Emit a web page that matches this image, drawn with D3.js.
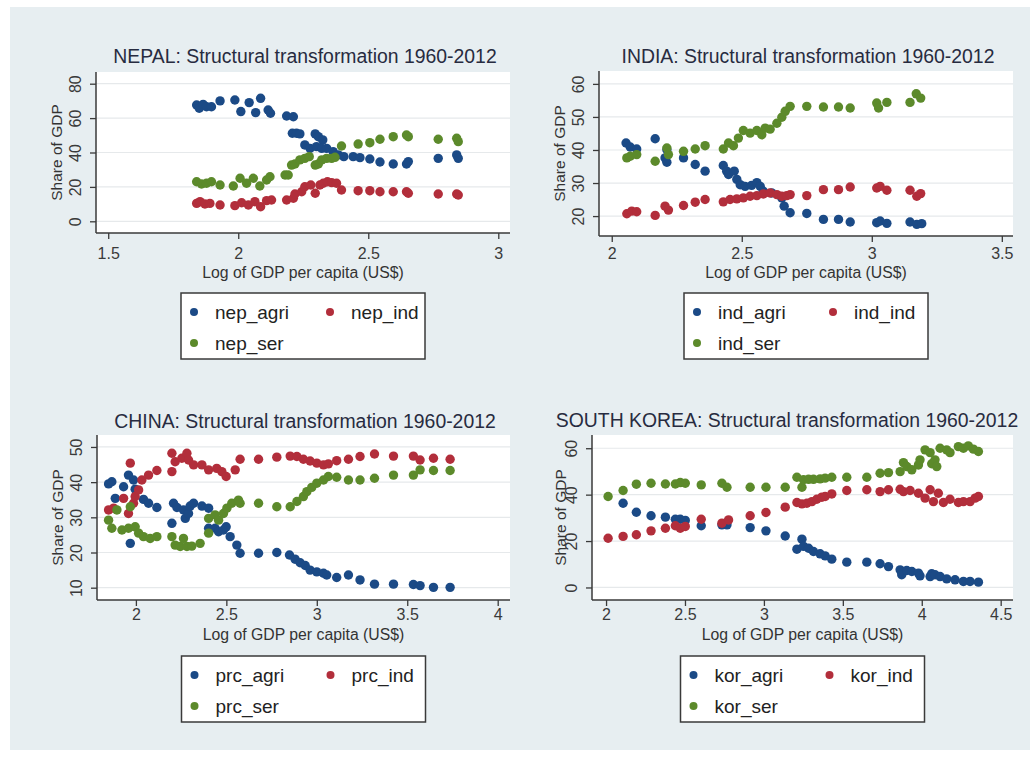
<!DOCTYPE html>
<html>
<head>
<meta charset="utf-8">
<script src="https://cdn.jsdelivr.net/npm/d3@7"></script>
<style>
  html, body { margin: 0; padding: 0; background: #ffffff; }
  svg { display: block; font-family: "Liberation Sans", Arial, sans-serif; }
</style>
</head>
<body>
<svg id="chart" width="1034" height="762"></svg>
<script>
// ---- Data: [log10 GDP per capita, share of GDP (%)] ----
const nepAgri = [[1.840,67.6],[1.850,65.7],[1.865,68.0],[1.878,66.6],[1.897,66.6],[1.930,70.0],[1.987,70.5],[2.010,63.8],[2.042,69.0],[2.067,63.2],[2.086,71.5],[2.115,64.7],[2.124,62.8],[2.186,61.2],[2.212,60.8],[2.208,51.2],[2.224,51.2],[2.237,50.8],[2.256,44.4],[2.276,42.4],[2.296,50.8],[2.308,49.2],[2.325,47.3],[2.301,43.4],[2.321,42.4],[2.340,42.4],[2.365,40.5],[2.385,38.6],[2.406,37.6],[2.442,37.6],[2.468,37.0],[2.506,36.2],[2.545,34.5],[2.596,33.3],[2.647,33.3],[2.654,34.7],[2.769,36.6],[2.840,38.6],[2.846,36.6]];
const nepInd = [[1.840,10.4],[1.853,11.4],[1.872,10.1],[1.891,10.4],[1.930,9.5],[1.987,9.1],[2.013,10.8],[2.039,9.5],[2.064,11.4],[2.086,8.5],[2.109,12.0],[2.128,12.4],[2.186,12.4],[2.212,13.4],[2.218,15.9],[2.244,17.2],[2.256,20.1],[2.279,21.1],[2.296,16.3],[2.314,21.1],[2.327,22.1],[2.343,23.0],[2.359,22.5],[2.378,22.1],[2.397,18.2],[2.461,17.8],[2.506,17.8],[2.545,17.2],[2.596,17.2],[2.647,17.2],[2.654,16.3],[2.769,15.9],[2.840,15.9],[2.846,15.3]];
const nepSer = [[1.840,23.0],[1.859,21.7],[1.878,22.1],[1.897,23.0],[1.930,21.1],[1.981,20.5],[2.007,25.0],[2.032,22.1],[2.058,25.0],[2.083,20.5],[2.109,24.0],[2.122,25.9],[2.180,26.9],[2.192,26.9],[2.205,32.7],[2.218,33.3],[2.237,35.7],[2.256,36.6],[2.273,37.6],[2.296,32.7],[2.308,33.3],[2.321,35.7],[2.340,36.6],[2.359,36.6],[2.372,37.2],[2.397,43.8],[2.461,44.9],[2.506,45.7],[2.545,47.7],[2.596,49.2],[2.647,50.2],[2.654,49.2],[2.769,47.7],[2.840,48.3],[2.846,46.3]];

const indAgri = [[2.055,42.1],[2.071,40.9],[2.096,40.3],[2.167,43.4],[2.212,40.1],[2.205,37.6],[2.212,36.3],[2.276,37.6],[2.321,35.6],[2.359,33.6],[2.429,35.3],[2.442,33.6],[2.449,32.6],[2.471,33.6],[2.481,31.1],[2.494,29.5],[2.513,29.0],[2.538,29.3],[2.558,30.1],[2.571,29.0],[2.583,27.5],[2.615,27.0],[2.654,25.5],[2.663,23.0],[2.686,21.0],[2.750,20.8],[2.814,19.0],[2.872,19.0],[2.917,18.2],[3.019,18.0],[3.032,18.5],[3.058,17.8],[3.147,18.2],[3.173,17.5],[3.192,17.7]];
const indInd = [[2.058,20.7],[2.077,21.5],[2.096,21.3],[2.167,20.2],[2.205,23.0],[2.218,21.8],[2.276,23.2],[2.321,24.2],[2.359,25.0],[2.429,24.3],[2.455,25.0],[2.481,25.2],[2.506,25.5],[2.532,26.0],[2.558,26.2],[2.583,26.7],[2.609,27.0],[2.635,26.5],[2.654,26.0],[2.673,26.2],[2.686,26.5],[2.750,26.2],[2.814,28.0],[2.872,28.0],[2.917,28.8],[3.019,28.5],[3.032,29.0],[3.058,27.8],[3.147,27.8],[3.173,26.0],[3.188,26.8]];
const indSer = [[2.058,37.6],[2.071,38.1],[2.096,38.6],[2.167,36.6],[2.212,40.6],[2.218,38.6],[2.276,39.6],[2.321,40.3],[2.359,41.3],[2.429,40.3],[2.449,42.1],[2.468,41.3],[2.487,43.6],[2.506,45.9],[2.532,45.1],[2.558,45.9],[2.577,44.6],[2.590,46.6],[2.609,46.3],[2.635,48.1],[2.654,49.9],[2.667,51.7],[2.686,53.2],[2.750,53.2],[2.814,53.0],[2.872,53.0],[2.917,52.7],[3.019,54.2],[3.026,52.7],[3.058,54.4],[3.147,54.4],[3.171,57.0],[3.188,55.7]];

const prcAgri = [[1.849,39.5],[1.867,40.1],[1.886,35.4],[1.932,38.7],[1.959,42.0],[1.987,40.6],[1.969,22.6],[1.996,38.0],[2.042,35.1],[2.070,34.0],[2.116,32.8],[2.199,28.3],[2.208,34.0],[2.227,32.8],[2.263,32.1],[2.273,29.7],[2.291,31.1],[2.300,33.2],[2.319,34.0],[2.365,33.2],[2.402,32.6],[2.402,26.9],[2.438,26.9],[2.457,25.9],[2.484,26.4],[2.499,27.3],[2.521,24.5],[2.558,22.1],[2.576,19.8],[2.678,19.8],[2.779,20.0],[2.849,19.3],[2.880,18.1],[2.908,17.1],[2.936,16.3],[2.963,15.0],[3.000,14.5],[3.037,14.1],[3.055,13.6],[3.110,12.9],[3.175,13.6],[3.239,12.2],[3.319,11.0],[3.424,11.0],[3.534,10.9],[3.571,10.6],[3.645,10.1],[3.737,10.1]];
const prcInd = [[1.849,32.1],[1.877,32.6],[1.932,35.4],[1.959,31.1],[1.969,45.4],[1.987,34.0],[1.996,35.9],[2.015,37.8],[2.033,40.6],[2.070,42.0],[2.116,43.3],[2.199,48.2],[2.199,43.0],[2.217,45.8],[2.254,46.8],[2.282,48.2],[2.291,46.3],[2.319,44.9],[2.365,44.9],[2.402,43.5],[2.447,43.9],[2.475,43.0],[2.499,41.6],[2.549,43.5],[2.576,46.5],[2.678,46.5],[2.779,47.1],[2.853,47.4],[2.890,47.3],[2.926,46.5],[2.963,46.0],[3.000,45.4],[3.037,44.9],[3.064,45.2],[3.110,46.1],[3.175,46.5],[3.239,47.3],[3.319,48.0],[3.424,47.4],[3.534,47.4],[3.571,46.3],[3.645,46.8],[3.737,46.5]];
const prcSer = [[1.849,29.2],[1.867,26.9],[1.895,32.1],[1.923,26.4],[1.959,26.9],[1.969,33.0],[1.996,27.3],[2.015,25.5],[2.042,24.5],[2.079,24.0],[2.116,24.5],[2.199,24.5],[2.217,22.1],[2.245,21.7],[2.263,24.0],[2.282,21.7],[2.309,21.8],[2.355,22.6],[2.402,25.5],[2.402,29.7],[2.438,30.7],[2.457,29.2],[2.484,31.1],[2.503,32.6],[2.530,34.0],[2.567,34.9],[2.576,34.0],[2.678,34.0],[2.779,33.0],[2.853,33.0],[2.890,34.5],[2.926,35.9],[2.945,37.3],[2.972,38.5],[3.000,39.7],[3.037,40.6],[3.064,41.6],[3.110,41.4],[3.175,40.6],[3.239,40.6],[3.319,41.1],[3.424,42.0],[3.534,42.0],[3.571,43.5],[3.645,43.3],[3.737,43.3]];

const korAgri = [[2.108,36.3],[2.192,32.4],[2.285,30.9],[2.376,30.3],[2.439,29.4],[2.470,29.4],[2.502,28.9],[2.603,26.6],[2.734,27.0],[2.766,27.0],[2.913,25.8],[3.013,24.4],[3.135,22.2],[3.209,16.5],[3.241,20.8],[3.251,17.7],[3.283,16.9],[3.314,15.5],[3.356,14.5],[3.388,13.6],[3.430,12.2],[3.525,10.9],[3.652,10.9],[3.736,10.2],[3.789,9.0],[3.863,7.6],[3.873,5.5],[3.905,7.3],[3.937,6.9],[3.979,6.2],[3.989,5.0],[4.053,4.7],[4.063,5.9],[4.084,5.5],[4.116,4.7],[4.158,3.7],[4.211,3.3],[4.264,2.6],[4.306,2.6],[4.359,2.3]];
const korInd = [[2.013,21.2],[2.108,22.0],[2.192,22.7],[2.285,24.4],[2.376,25.5],[2.439,26.6],[2.470,25.5],[2.502,26.3],[2.603,29.4],[2.734,27.7],[2.776,29.1],[2.913,30.9],[3.013,32.3],[3.135,34.6],[3.209,36.6],[3.241,36.0],[3.272,36.3],[3.304,37.0],[3.335,38.0],[3.367,38.9],[3.388,39.2],[3.430,40.3],[3.525,41.8],[3.652,42.1],[3.736,41.3],[3.789,42.1],[3.863,42.3],[3.884,41.3],[3.926,41.8],[3.979,40.6],[4.021,38.5],[4.053,42.1],[4.074,37.0],[4.105,40.6],[4.137,36.6],[4.179,38.0],[4.232,36.6],[4.264,37.0],[4.306,37.0],[4.338,38.5],[4.359,39.2]];
const korSer = [[2.013,39.2],[2.108,41.8],[2.192,44.5],[2.285,44.9],[2.376,44.6],[2.439,44.6],[2.470,45.2],[2.502,44.9],[2.603,44.2],[2.734,44.9],[2.766,43.2],[2.913,43.2],[3.013,43.2],[3.135,43.2],[3.209,47.5],[3.241,43.2],[3.251,46.4],[3.283,46.6],[3.314,46.6],[3.356,46.8],[3.388,47.1],[3.430,47.5],[3.525,47.5],[3.652,47.5],[3.736,49.2],[3.789,49.5],[3.863,49.9],[3.884,53.8],[3.905,52.1],[3.937,50.7],[3.979,52.8],[3.989,55.0],[4.021,59.3],[4.053,58.1],[4.063,53.3],[4.084,55.0],[4.095,52.1],[4.116,60.0],[4.158,59.3],[4.179,58.1],[4.232,60.7],[4.264,60.0],[4.295,61.0],[4.327,59.6],[4.359,58.6]];

// ---- Tick labels ----
const nepXTicks = [1.5, 2, 2.5, 3];
const nepYTicks = [0, 20, 40, 60, 80];
const indXTicks = [2, 2.5, 3, 3.5];
const indYTicks = [20, 30, 40, 50, 60];
const prcXTicks = [2, 2.5, 3, 3.5, 4];
const prcYTicks = [10, 20, 30, 40, 50];
const korXTicks = [2, 2.5, 3, 3.5, 4, 4.5];
const korYTicks = [0, 20, 40, 60];

const titleSuffix = ": Structural transformation 1960-2012";
const countries = ["NEPAL", "INDIA", "CHINA", "SOUTH KOREA"];
const xTitle = "Log of GDP per capita (US$)";
const yTitle = "Share of GDP";
const sectorColors = ["#1b4a86", "#b22e3b", "#5c8a2b"];

// ---- Panel layout ----
const panels = [
  { name: countries[0], series: [nepAgri, nepInd, nepSer], labels: ["nep_agri", "nep_ind", "nep_ser"],
    xTicks: nepXTicks, yTicks: nepYTicks,
    left: 96, right: 510, top: 72, bottom: 233, xDom: [1.453, 3.045], yDom: [-6.8, 86.8],
    titleX: 305, titleY: 63, xLabY: 259, xTitY: 278, yTitOff: 34, legTop: 293 },
  { name: countries[1], series: [indAgri, indInd, indSer], labels: ["ind_agri", "ind_ind", "ind_ser"],
    xTicks: indXTicks, yTicks: indYTicks,
    left: 599, right: 1013, top: 71, bottom: 236, xDom: [1.951, 3.543], yDom: [13.97, 63.9],
    titleX: 808, titleY: 63, xLabY: 259, xTitY: 278, yTitOff: 34, legTop: 293 },
  { name: countries[2], series: [prcAgri, prcInd, prcSer], labels: ["prc_agri", "prc_ind", "prc_ser"],
    xTicks: prcXTicks, yTicks: prcYTicks,
    left: 97, right: 510, top: 435, bottom: 600, xDom: [1.785, 4.068], yDom: [6.5, 53.4],
    titleX: 305, titleY: 428, xLabY: 620, xTitY: 640, yTitOff: 34, legTop: 656 },
  { name: countries[3], series: [korAgri, korInd, korSer], labels: ["kor_agri", "kor_ind", "kor_ser"],
    xTicks: korXTicks, yTicks: korYTicks,
    left: 592, right: 1013, top: 435, bottom: 600, xDom: [1.911, 4.578], yDom: [-5.4, 65.7],
    titleX: 787, titleY: 427, xLabY: 620, xTitY: 640, yTitOff: 26, legTop: 656 }
];

const svg = d3.select("#chart");

// graph region background
svg.append("rect").attr("x", 10).attr("y", 7).attr("width", 1020).attr("height", 743)
  .attr("fill", "#e7eef1");

const fmt = d => String(d);

panels.forEach(p => {
  const g = svg.append("g");
  const x = d3.scaleLinear().domain(p.xDom).range([p.left, p.right]);
  const y = d3.scaleLinear().domain(p.yDom).range([p.bottom, p.top]);

  // plot region
  g.append("rect").attr("x", p.left).attr("y", p.top)
    .attr("width", p.right - p.left).attr("height", p.bottom - p.top).attr("fill", "#ffffff");

  // horizontal grid
  g.append("g").selectAll("line").data(p.yTicks).join("line")
    .attr("x1", p.left).attr("x2", p.right)
    .attr("y1", d => y(d)).attr("y2", d => y(d))
    .attr("stroke", "#e6e9eb").attr("stroke-width", 1.2);

  // x axis
  const xAxis = g.append("g").attr("transform", `translate(0,${p.bottom})`)
    .call(d3.axisBottom(x).tickValues(p.xTicks).tickSize(6).tickFormat(fmt));
  xAxis.select(".domain").attr("d", `M${p.left},0H${p.right}`).attr("stroke", "#3a3a3a").attr("stroke-width", 1.5);
  xAxis.selectAll(".tick line").attr("stroke", "#3a3a3a").attr("stroke-width", 1.3);
  xAxis.selectAll(".tick text").attr("y", p.xLabY - p.bottom).attr("dy", 0)
    .attr("font-size", 16).attr("fill", "#3a3a3a").attr("font-family", "Liberation Sans, Arial, sans-serif");

  // y axis
  const yAxis = g.append("g").attr("transform", `translate(${p.left},0)`)
    .call(d3.axisLeft(y).tickValues(p.yTicks).tickSize(6).tickFormat(fmt));
  yAxis.select(".domain").attr("d", `M0,${p.top}V${p.bottom}`).attr("stroke", "#3a3a3a").attr("stroke-width", 1.5);
  yAxis.selectAll(".tick line").attr("stroke", "#3a3a3a").attr("stroke-width", 1.3);
  yAxis.selectAll(".tick text")
    .attr("x", null).attr("dy", null)
    .attr("transform", "translate(-15,0) rotate(-90)")
    .attr("text-anchor", "middle")
    .attr("font-size", 16).attr("fill", "#3a3a3a").attr("font-family", "Liberation Sans, Arial, sans-serif");

  // points: agri, ind, ser
  p.series.forEach((s, i) => {
    g.append("g").selectAll("circle").data(s).join("circle")
      .attr("cx", d => x(d[0])).attr("cy", d => y(d[1])).attr("r", 4.7)
      .attr("fill", sectorColors[i]);
  });

  // titles
  g.append("text").attr("x", p.titleX).attr("y", p.titleY).attr("text-anchor", "middle")
    .attr("font-size", 19.4).attr("fill", "#272b40").text(p.name + titleSuffix);
  g.append("text").attr("x", (p.left + p.right) / 2).attr("y", p.xTitY).attr("text-anchor", "middle")
    .attr("font-size", 15.8).attr("fill", "#333").text(xTitle);
  g.append("text")
    .attr("transform", `translate(${p.left - p.yTitOff},${(p.top + p.bottom) / 2}) rotate(-90)`)
    .attr("text-anchor", "middle").attr("font-size", 15.5).attr("fill", "#333").text(yTitle);

  // legend
  const lw = 244, lh = 66;
  const lx = (p.left + p.right) / 2 - lw / 2;
  const leg = g.append("g").attr("transform", `translate(${lx},${p.legTop})`);
  leg.append("rect").attr("width", lw).attr("height", lh).attr("fill", "#ffffff")
    .attr("stroke", "#3a3a3a").attr("stroke-width", 1.5);
  const slots = [[0, 19], [136, 19], [0, 50]];
  p.labels.forEach((lab, i) => {
    const [ox, oy] = slots[i];
    leg.append("circle").attr("cx", 13 + ox).attr("cy", oy).attr("r", 4).attr("fill", sectorColors[i]);
    leg.append("text").attr("x", 34 + ox).attr("y", oy).attr("dy", "0.35em")
      .attr("font-size", 19).attr("fill", "#222").text(lab);
  });
});
</script>
</body>
</html>
